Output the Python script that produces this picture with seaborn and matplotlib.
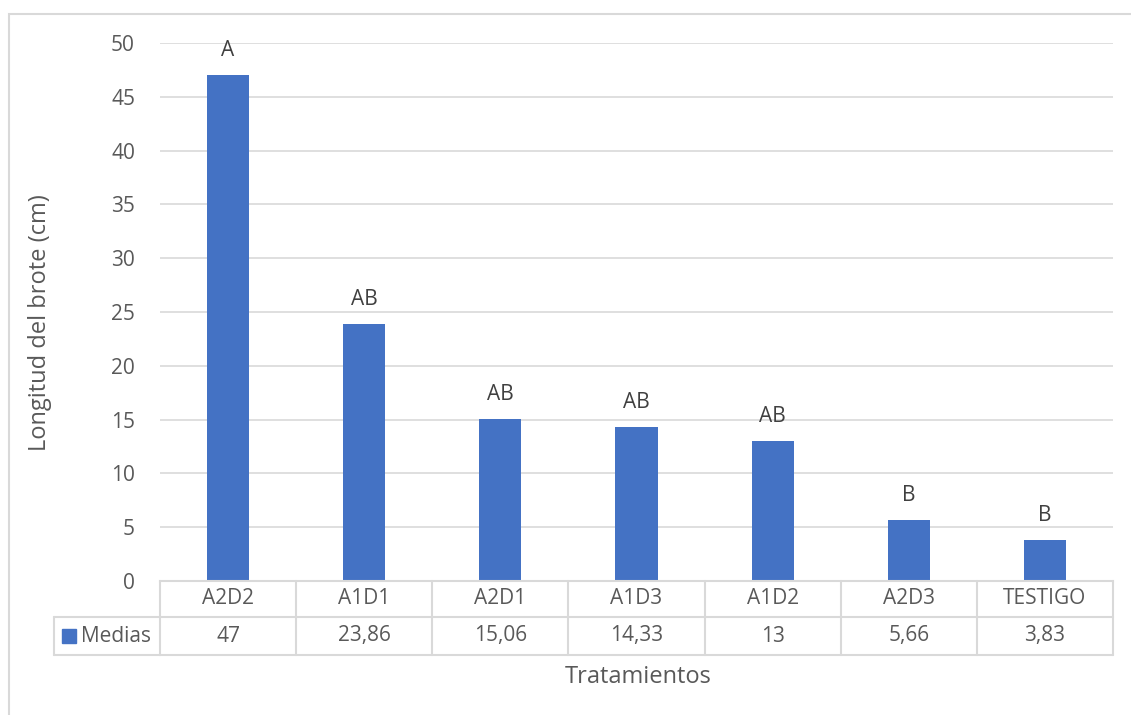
import matplotlib
matplotlib.use("Agg")
import matplotlib.pyplot as plt
import matplotlib.transforms as mtransforms
from matplotlib.patches import Rectangle
import seaborn as sns
import pandas as pd

# Treatment means of shoot length (cm) and their Tukey groupings
tratamientos = ["A2D2", "A1D1", "A2D1", "A1D3", "A1D2", "A2D3", "TESTIGO"]
medias = [47, 23.86, 15.06, 14.33, 13, 5.66, 3.83]
medias_txt = ["47", "23,86", "15,06", "14,33", "13", "5,66", "3,83"]
grupos = ["A", "AB", "AB", "AB", "AB", "B", "B"]
yticks = [0, 5, 10, 15, 20, 25, 30, 35, 40, 45, 50]

sns.set_theme(style="white")
plt.rcParams["font.family"] = ["Open Sans", "DejaVu Sans"]

TXT = "#595959"
DARK = "#404040"
LINE = "#d9d9d9"
BAR = "#4472C4"
FS = 15
FS_TITLE = 17
W, H = 1131, 715

fig = plt.figure(figsize=(W / 100, H / 100), dpi=100)
ax = fig.add_axes([160 / W, 1 - 581 / H, (1113 - 160) / W, (581 - 43) / H])

df = pd.DataFrame({"Tratamiento": tratamientos, "Media": medias})
sns.barplot(data=df, x="Tratamiento", y="Media", color=BAR, width=0.31,
            saturation=1, ax=ax, edgecolor="none")

ax.set_ylim(0, 50)
ax.set_xlim(-0.5, len(tratamientos) - 0.5)
ax.set_yticks(yticks)
ax.set_yticklabels([str(t) for t in yticks], color=TXT, fontsize=FS)
ax.tick_params(axis="y", length=0, pad=18)
ax.set_xticks([])
ax.set_xlabel("")
ax.set_ylabel("Longitud del brote (cm)", color=TXT, fontsize=FS_TITLE)
ax.yaxis.set_label_coords(-0.113, 0.48)
for t in yticks[1:]:
    ax.axhline(t, color=LINE, lw=1.2, zorder=0)
for s in ["top", "right", "left"]:
    ax.spines[s].set_visible(False)
ax.spines["bottom"].set_color(LINE)
ax.spines["bottom"].set_linewidth(1.5)

# Group letters above the bars
for i, (v, g) in enumerate(zip(medias, grupos)):
    ax.annotate(g, (i, v), xytext=(0, 10), textcoords="offset points",
                ha="center", va="bottom", color=DARK, fontsize=FS)

# Data table under the axis
tr = mtransforms.blended_transform_factory(ax.transData, ax.transAxes)
ph = (581 - 43)
r1 = -(617 - 581) / ph
r2 = -(655 - 581) / ph
lc = dict(color=LINE, lw=1.5, clip_on=False)
n = len(tratamientos)
for k in range(n + 1):
    ax.plot([k - 0.5, k - 0.5], [0, r2], transform=tr, **lc)
ax.plot([-0.5, n - 0.5], [r1, r1], transform=tr, **lc)
ax.plot([-0.5, n - 0.5], [r2, r2], transform=tr, **lc)
for i in range(n):
    ax.text(i, r1 / 2, tratamientos[i], transform=tr, ha="center", va="center",
            color=TXT, fontsize=FS)
    ax.text(i, (r1 + r2) / 2, medias_txt[i], transform=tr, ha="center",
            va="center", color=TXT, fontsize=FS)

# Legend cell of the table
xl = (54 - 160) / (1113 - 160)
ax.plot([xl, 0], [r1, r1], transform=ax.transAxes, **lc)
ax.plot([xl, 0], [r2, r2], transform=ax.transAxes, **lc)
ax.plot([xl, xl], [r1, r2], transform=ax.transAxes, **lc)
fig.patches.append(Rectangle((62 / W, 1 - 643 / H), 14 / W, 14 / H,
                             transform=fig.transFigure, color=BAR))
fig.text(81 / W, 1 - 636 / H, "Medias", ha="left", va="center",
         color=TXT, fontsize=FS)

fig.text(638 / W, 1 - 677 / H, "Tratamientos", ha="center", va="center",
         color=TXT, fontsize=FS_TITLE)

# Chart-area border
fig.patches.append(Rectangle((8.5 / W, -0.1), 1.2, 1 - 14 / H + 0.1,
                             transform=fig.transFigure, fill=False,
                             edgecolor=LINE, lw=1.5))

fig.savefig("out.png", dpi=100, facecolor="white")
